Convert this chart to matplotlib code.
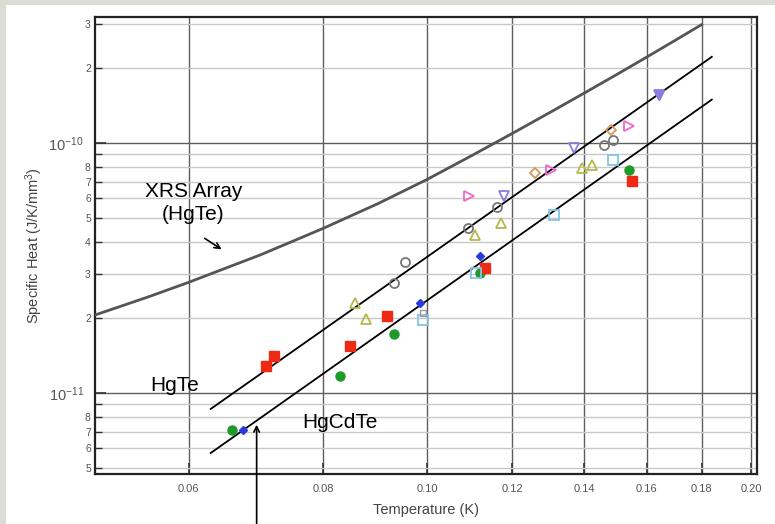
import numpy as np
import matplotlib
matplotlib.use("Agg")
import matplotlib.pyplot as plt
from matplotlib.ticker import FixedLocator, FixedFormatter, NullLocator
from matplotlib.patches import Rectangle

plt.rcParams['font.family'] = ['Liberation Sans', 'DejaVu Sans']

# XRS array (HgTe) specific heat curve
xrs_T = [0.0491, 0.055, 0.06, 0.07, 0.08, 0.09, 0.10, 0.11, 0.12, 0.13, 0.14, 0.15, 0.16, 0.17, 0.18]
xrs_C = [2.05e-11, 2.42e-11, 2.77e-11, 3.57e-11, 4.55e-11, 5.72e-11, 7.15e-11, 8.90e-11,
         1.092e-10, 1.323e-10, 1.584e-10, 1.877e-10, 2.205e-10, 2.571e-10, 2.976e-10]

# T^3 guide lines (end points)
hgte_T = [0.0629, 0.1839]
hgte_C = [8.63e-12, 2.21e-10]
hgcdte_T = [0.0629, 0.1839]
hgcdte_C = [5.75e-12, 1.49e-10]

# measured points, one group per sample
green_T = [0.0658, 0.0829, 0.0931, 0.1119, 0.1540]
green_C = [7.11e-12, 1.17e-11, 1.72e-11, 3.02e-11, 7.80e-11]
red_T = [0.0708, 0.0721, 0.0847, 0.0917, 0.1131, 0.1550]
red_C = [1.28e-11, 1.41e-11, 1.54e-11, 2.03e-11, 3.16e-11, 7.05e-11]
blue_T = [0.0674, 0.0984, 0.1119]
blue_C = [7.11e-12, 2.29e-11, 3.53e-11]
gray_T = [0.0931, 0.0953, 0.1091, 0.1160, 0.1459, 0.1488]
gray_C = [2.75e-11, 3.34e-11, 4.57e-11, 5.55e-11, 9.82e-11, 1.03e-10]
olive_T = [0.0856, 0.0878, 0.1107, 0.1171, 0.1392, 0.1423]
olive_C = [2.29e-11, 1.98e-11, 4.29e-11, 4.79e-11, 7.94e-11, 8.17e-11]
ltblue_T = [0.0990, 0.1109, 0.1311, 0.1488]
ltblue_C = [1.95e-11, 3.02e-11, 5.15e-11, 8.55e-11]
graysq_T = [0.0990]
graysq_C = [2.08e-11]
pink_T = [0.1093, 0.1303, 0.1540]
pink_C = [6.14e-11, 7.80e-11, 1.17e-10]
purple_T = [0.1178, 0.1369, 0.1642]
purple_C = [6.14e-11, 9.55e-11, 1.56e-10]
orange_T = [0.1259, 0.1482]
orange_C = [7.59e-11, 1.13e-10]

xticks = [0.06, 0.08, 0.10, 0.12, 0.14, 0.16, 0.18, 0.20]
xticklabels = ['0.06', '0.08', '0.10', '0.12', '0.14', '0.16', '0.18', '0.20']

fig = plt.figure(figsize=(7.75, 5.24), dpi=100)
fig.patch.set_facecolor('white')
ax = fig.add_axes([0.1226, 0.0954, 0.8542, 0.8722])

# axes + grid
ax.set_xscale('log')
ax.set_yscale('log')
ax.set_xlim(0.0491, 0.2026)
ax.set_ylim(4.74e-12, 3.19e-10)

ax.xaxis.set_major_locator(FixedLocator(xticks))
ax.xaxis.set_major_formatter(FixedFormatter(xticklabels))
ax.xaxis.set_minor_locator(NullLocator())

ax.yaxis.set_major_locator(FixedLocator([1e-11, 1e-10]))
ax.yaxis.set_major_formatter(FixedFormatter([r'$\mathregular{10^{-11}}$', r'$\mathregular{10^{-10}}$']))
minor_y = [k * 10.0**e for e in (-12, -11, -10) for k in range(2, 10)]
minor_y = [v for v in minor_y if 4.74e-12 <= v <= 3.19e-10]
minor_lbl = [str(int(round(v / 10.0**np.floor(np.log10(v))))) for v in minor_y]
minor_lbl = ['' if l == '9' else l for l in minor_lbl]
ax.yaxis.set_minor_locator(FixedLocator(minor_y))
ax.yaxis.set_minor_formatter(FixedFormatter(minor_lbl))

ax.grid(True, which='major', axis='both', color='#5e5e5e', lw=1.0)
ax.grid(True, which='minor', axis='y', color='#c8c8c8', lw=1.0)
ax.set_axisbelow(True)

ax.tick_params(which='major', direction='in', length=8, width=1.2, color='#333333',
               labelsize=8, labelcolor='#555555')
ax.tick_params(axis='x', which='major', pad=7)
ax.tick_params(axis='y', which='major', pad=8, labelsize=10.5)
ax.tick_params(axis='y', which='minor', direction='in', length=5, width=1.0, color='#333333',
               labelsize=7.5, labelcolor='#555555', pad=3)
for s in ax.spines.values():
    s.set_linewidth(1.6)
    s.set_color('#222222')

# data
ax.plot(xrs_T, xrs_C, color='#555555', lw=2.0, zorder=3)
ax.plot(hgte_T, hgte_C, color='black', lw=1.3, zorder=4)
ax.plot(hgcdte_T, hgcdte_C, color='black', lw=1.3, zorder=4)

ms = 6.5
ax.plot(green_T, green_C, 'o', color='#1e9a28', ms=ms, zorder=5)
ax.plot(red_T, red_C, 's', color='#ee2a14', ms=ms, zorder=5)
ax.plot(blue_T, blue_C, 'D', color='#2a3ae0', ms=4.5, zorder=5)
ax.plot(gray_T, gray_C, 'o', mfc='none', mec='#777777', mew=1.3, ms=ms, zorder=5)
ax.plot(olive_T, olive_C, '^', mfc='none', mec='#b4b84c', mew=1.3, ms=ms, zorder=5)
ax.plot(ltblue_T, ltblue_C, 's', mfc='none', mec='#86c4e6', mew=1.3, ms=ms, zorder=5)
ax.plot(graysq_T, graysq_C, 's', mfc='none', mec='#999999', mew=1.0, ms=5, zorder=5)
ax.plot(pink_T, pink_C, '>', mfc='none', mec='#ec6ad0', mew=1.3, ms=ms, zorder=5)
ax.plot(purple_T, purple_C, 'v', mfc='none', mec='#8a7ce0', mew=1.3, ms=ms, zorder=5)
ax.plot(purple_T[-1:], purple_C[-1:], 'v', color='#8a7ce0', ms=ms, zorder=5)
ax.plot(orange_T, orange_C, 'D', mfc='none', mec='#d8985c', mew=1.3, ms=5, zorder=5)

# labels
ax.text(0.0606, 5.75e-11, 'XRS Array\n(HgTe)', ha='center', va='center', fontsize=15,
        linespacing=1.25, color='black')
ax.annotate('', xy=(0.0647, 3.70e-11), xytext=(0.0618, 4.21e-11),
            arrowprops=dict(arrowstyle='->', color='black', lw=1.2))
ax.text(0.0582, 1.067e-11, 'HgTe', ha='center', va='center', fontsize=15)
ax.text(0.0829, 7.59e-12, 'HgCdTe', ha='center', va='center', fontsize=15)
ax.annotate('', xy=(0.0694, 7.66e-12), xytext=(0.0694, 2.9e-12),
            arrowprops=dict(arrowstyle='->', color='black', lw=1.2),
            annotation_clip=False)

ax.set_xlabel('Temperature (K)', fontsize=10.5, color='#444444')
ax.xaxis.set_label_coords(0.5, -0.063)
ax.set_ylabel(r'Specific Heat (J/K/mm$\mathregular{^3}$)', fontsize=10.5, color='#444444')
ax.yaxis.set_label_coords(-0.075, 0.5)

# light frame on the left and top edge
fig.add_artist(Rectangle((0, 0), 6 / 775, 1, transform=fig.transFigure,
                         color='#dcdcd6', lw=0, zorder=-1))
fig.add_artist(Rectangle((0, 1 - 5 / 524), 1, 5 / 524, transform=fig.transFigure,
                         color='#dcdcd6', lw=0, zorder=-1))

fig.savefig('out.png', dpi=100)
